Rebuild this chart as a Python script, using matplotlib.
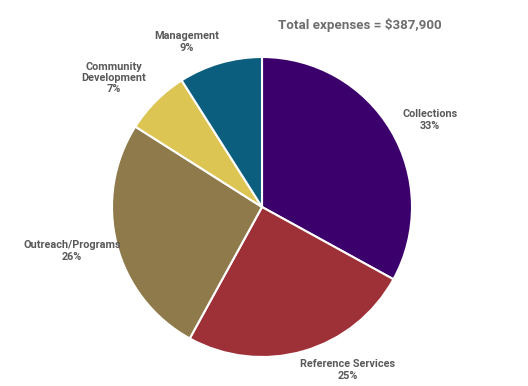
import matplotlib
matplotlib.use('Agg')
import matplotlib.pyplot as plt

# expense shares (%), clockwise from 12 o'clock
categories = ['Collections', 'Reference Services', 'Outreach/Programs',
              'Community\nDevelopment', 'Management']
shares = [33, 25, 26, 7, 9]
colors = ['#3b006b', '#9e3037', '#8e7a4b', '#dcc553', '#0c5e7f']
title = 'Total expenses = $387,900'

# label anchor points in pixel space (image y measured from top)
label_pos = [(430, 120), (348, 370), (72, 251), (114, 78), (187, 42)]

W, H = 528, 386
plt.rcParams['font.family'] = ['Roboto', 'DejaVu Sans']

fig = plt.figure(figsize=(W / 100, H / 100), dpi=100)
ax = fig.add_axes([0, 0, 1, 1])
ax.set_xlim(0, W)
ax.set_ylim(0, H)
ax.set_aspect('equal')
ax.axis('off')

ax.pie(shares, colors=colors, center=(262, H - 207), radius=150,
       startangle=90, counterclock=False,
       wedgeprops=dict(edgecolor='white', linewidth=1.5))

for name, pct, (x, y) in zip(categories, shares, label_pos):
    ax.text(x, H - y, f'{name}\n{pct}%', ha='center', va='center',
            fontsize=7.8, fontweight='bold', color='#595959', linespacing=1.15)

ax.text(278, H - 25, title, ha='left', va='center',
        fontsize=9.6, fontweight='bold', color='#6e6e6e')

ax.set_xlim(0, W)
ax.set_ylim(0, H)
fig.savefig('out.png', dpi=100)
